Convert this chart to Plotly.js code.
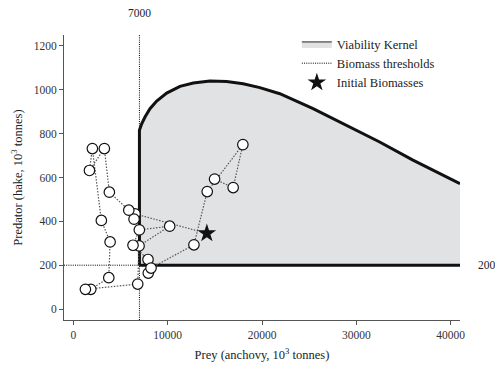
<!DOCTYPE html>
<html>
<head>
<meta charset="utf-8">
<script src="https://cdn.plot.ly/plotly-3.0.1.min.js"></script>
<style>html,body{margin:0;padding:0;background:#fff;}#chart{width:495px;height:368px;}</style>
</head>
<body>
<div id="chart"></div>
<script>
// Axis ranges
const xRange = [-1000, 41000];
const yRange = [-50, 1250];
const xTicks = [0, 10000, 20000, 30000, 40000];
const yTicks = [0, 200, 400, 600, 800, 1000, 1200];

// Biomass thresholds
const preyThreshold = 7000;
const predatorThreshold = 200;

// Viability kernel upper boundary (left edge + curve)
const kernelX = [7000, 7000, 7240, 7590, 8120, 8830, 9890, 11300, 12710, 14480, 16250, 18000, 19770, 21890, 25420, 28950, 32480, 36010, 39540, 41000];
const kernelY = [200, 815, 845, 876, 914, 949, 985, 1016, 1031, 1040, 1038, 1028, 1010, 982, 914, 838, 762, 679, 603, 572];
// Viability kernel lower boundary
const kernelBottomX = [7000, 41000];
const kernelBottomY = [200, 200];

// Initial biomasses
const initialPrey = [14150];
const initialPredator = [345];

// Observed trajectory (prey, predator), in order
const trajPrey = [6530, 6430, 5870, 3810, 3280, 1700, 2010, 2960, 3890, 3750, 1840, 1270, 6820, 6960, 10210, 6990, 6320, 7910, 7940, 8230, 12780, 14190, 17970, 16940, 14970];
const trajPredator = [434, 410, 451, 533, 732, 632, 732, 404, 306, 143, 90, 90, 114, 288, 378, 361, 291, 226, 164, 187, 293, 536, 750, 554, 593];

const serif = "Liberation Serif, DejaVu Serif, serif";

const traces = [
  {
    x: [preyThreshold, preyThreshold, null, xRange[0], xRange[1]],
    y: [yRange[0], yRange[1], null, predatorThreshold, predatorThreshold],
    mode: 'lines', name: 'Biomass thresholds', legendrank: 2,
    line: {color: '#000', width: 1, dash: '1px,1.2px'},
    hoverinfo: 'skip', connectgaps: false
  },
  {
    x: kernelBottomX, y: kernelBottomY, mode: 'lines', showlegend: false,
    line: {color: '#111', width: 3}, hoverinfo: 'skip'
  },
  {
    x: kernelX, y: kernelY, mode: 'lines', fill: 'tonexty', fillcolor: '#e1e2e4',
    name: 'Viability Kernel', legendrank: 1,
    line: {color: '#222', width: 1}, hoverinfo: 'skip'
  },
  {
    x: kernelX, y: kernelY, mode: 'lines', showlegend: false,
    line: {color: '#111', width: 3}, hoverinfo: 'skip'
  },
  {
    x: initialPrey.concat(trajPrey), y: initialPredator.concat(trajPredator),
    mode: 'lines', showlegend: false,
    line: {color: '#555', width: 1.2, dash: '1.5px,1.5px'}
  },
  {
    x: trajPrey, y: trajPredator, mode: 'markers', showlegend: false,
    marker: {symbol: 'circle', size: 10.5, color: '#fff', line: {color: '#111', width: 1.2}}
  },
  {
    x: initialPrey, y: initialPredator, mode: 'markers', name: 'Initial Biomasses', legendrank: 3,
    marker: {symbol: 'star', size: 14, color: '#111', line: {width: 0}}
  }
];

const axisCommon = {
  showline: true, linecolor: '#555', linewidth: 1,
  ticks: 'outside', ticklen: 4, tickcolor: '#555', tickwidth: 1,
  showgrid: false, zeroline: false,
  tickfont: {family: serif, size: 11.5, color: '#333'}
};

const layout = {
  width: 495, height: 368,
  margin: {l: 64, r: 35, t: 35, b: 48},
  paper_bgcolor: '#fff', plot_bgcolor: '#fff',
  font: {family: serif, color: '#222'},
  xaxis: Object.assign({}, axisCommon, {
    range: xRange, tickvals: xTicks, ticktext: xTicks.map(String),
    title: {text: 'Prey (anchovy, 10<sup>3</sup> tonnes)', font: {family: serif, size: 12.5, color: '#222'}, standoff: 10}
  }),
  yaxis: Object.assign({}, axisCommon, {
    range: yRange, tickvals: yTicks, ticktext: yTicks.map(String),
    title: {text: 'Predator (hake, 10<sup>3</sup> tonnes)', font: {family: serif, size: 12.5, color: '#222'}, standoff: 8}
  }),
  legend: {
    x: 0.588, y: 1.02, xanchor: 'left', yanchor: 'top', traceorder: 'normal',
    bgcolor: 'rgba(0,0,0,0)', font: {family: serif, size: 12.5, color: '#222'},
    tracegroupgap: 0, itemwidth: 30
  },
  annotations: [
    {x: preyThreshold, xref: 'x', y: 1, yref: 'paper', yshift: 22, text: String(preyThreshold),
     showarrow: false, xanchor: 'center', yanchor: 'middle', font: {family: serif, size: 11.5, color: '#222'}},
    {x: 1, xref: 'paper', y: predatorThreshold, yref: 'y', xshift: 16, text: String(predatorThreshold),
     showarrow: false, xanchor: 'left', yanchor: 'middle', font: {family: serif, size: 11.5, color: '#222'}}
  ],
  showlegend: true
};

Plotly.newPlot('chart', traces, layout, {displayModeBar: false, staticPlot: true});
</script>
</body>
</html>
